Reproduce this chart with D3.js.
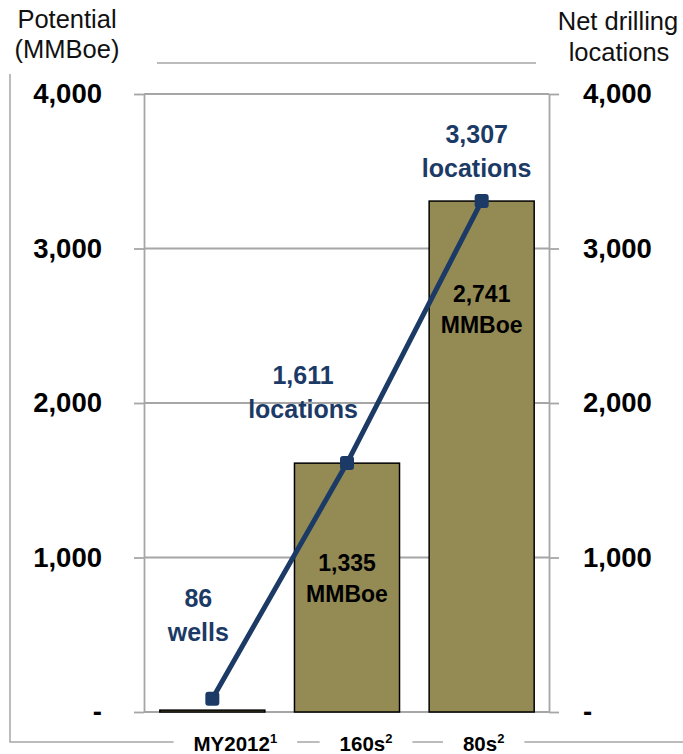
<!DOCTYPE html>
<html><head><meta charset="utf-8">
<script src="https://cdn.jsdelivr.net/npm/d3@7"></script>
<style>
html,body{margin:0;padding:0;background:#fff;}
svg{display:block;font-family:"Liberation Sans",Arial,Helvetica,sans-serif;}
</style></head><body>
<svg id="chart" width="683" height="754"></svg>
<script>
// ---- data ----
const categories = ["MY2012", "160s", "80s"];
const footnotes = ["1", "2", "2"];
const potentialMMBoe = [10, 1335, 2741];
const netLocations = [86, 1611, 3307];
const locationUnits = ["wells", "locations", "locations"];
const axisTicks = [0, 1000, 2000, 3000, 4000];

// ---- layout ----
const plot = {left: 144, right: 549, top: 94, bottom: 712};
const gray = "#a6a6a6", navy = "#1c3a66", olive = "#948a54";
// label offsets from their anchor points
const locLabelOffset = [{dx: -14, dy: -92}, {dx: -44, dy: -79}, {dx: -5, dy: -58}];
const mmboeLabelDy = [null, 108, 101];
const catLabelDx = [23, 19, 2];

const svg = d3.select("#chart");

const x = d3.scaleBand().domain(categories)
  .range([plot.left + 1, plot.right]).paddingInner(0.22).paddingOuter(0.11);
const y = d3.scaleLinear().domain([0, 4000]).range([plot.bottom, plot.top]);
// bars share the vertical extent of the locations line
const yBar = d3.scaleLinear()
  .domain([0, 4000 * d3.max(potentialMMBoe) / d3.max(netLocations)])
  .range([plot.bottom, plot.top]);

const fmt = d => d === 0 ? "-" : d3.format(",")(d);

// ---- frame bracket and header rule ----
svg.append("path")
  .attr("d", "M10,74V742H683")
  .attr("fill", "none").attr("stroke", gray).attr("stroke-width", 1.5);
svg.append("line")
  .attr("x1", 157).attr("x2", 536).attr("y1", 63).attr("y2", 63)
  .attr("stroke", gray).attr("stroke-width", 1.5);

// ---- axis titles ----
const titleL = svg.append("text").attr("text-anchor", "middle")
  .attr("font-size", 25.5).attr("fill", "#111");
titleL.append("tspan").attr("x", 67).attr("y", 28).text("Potential");
titleL.append("tspan").attr("x", 67).attr("y", 58).text("(MMBoe)");
const titleR = svg.append("text").attr("text-anchor", "middle")
  .attr("font-size", 25.5).attr("fill", "#111");
titleR.append("tspan").attr("x", 618).attr("y", 30).text("Net drilling");
titleR.append("tspan").attr("x", 619).attr("y", 61).text("locations");

// ---- gridlines ----
svg.append("g").selectAll("line").data(axisTicks).join("line")
  .attr("x1", plot.left).attr("x2", plot.right)
  .attr("y1", d => y(d)).attr("y2", d => y(d))
  .attr("stroke", gray).attr("stroke-width", 1.8);

// ---- axes ----
function styleAxis(g) {
  g.select(".domain").attr("stroke", gray).attr("stroke-width", 1.8);
  g.selectAll(".tick line").attr("stroke", gray).attr("stroke-width", 1.8);
  g.selectAll(".tick text")
    .attr("font-family", "Liberation Sans, Arial, sans-serif")
    .attr("font-size", 27.5).attr("font-weight", "bold").attr("fill", "#000");
}
svg.append("g").attr("transform", `translate(${plot.left},0)`)
  .call(d3.axisLeft(y).tickValues(axisTicks).tickFormat(fmt)
    .tickSize(10).tickSizeOuter(0).tickPadding(32))
  .call(styleAxis);
svg.append("g").attr("transform", `translate(${plot.right},0)`)
  .call(d3.axisRight(y).tickValues(axisTicks).tickFormat(fmt)
    .tickSize(10).tickSizeOuter(0).tickPadding(24))
  .call(styleAxis);

// ---- bars (potential MMBoe) ----
svg.append("g").selectAll("rect").data(potentialMMBoe).join("rect")
  .attr("x", (d, i) => x(categories[i]))
  .attr("width", x.bandwidth())
  .attr("y", d => yBar(d))
  .attr("height", d => yBar(0) - yBar(d))
  .attr("fill", olive).attr("stroke", "#000").attr("stroke-width", 1.5);

// MMBoe labels inside the bars
potentialMMBoe.forEach((v, i) => {
  if (mmboeLabelDy[i] == null) return;
  const cx = x(categories[i]) + x.bandwidth() / 2;
  const top = yBar(v);
  const t = svg.append("text").attr("text-anchor", "middle")
    .attr("font-size", 23).attr("font-weight", "bold").attr("fill", "#000");
  t.append("tspan").attr("x", cx).attr("y", top + mmboeLabelDy[i]).text(d3.format(",")(v));
  t.append("tspan").attr("x", cx).attr("y", top + mmboeLabelDy[i] + 31).text("MMBoe");
});

// ---- locations line ----
const pts = netLocations.map((v, i) => [x(categories[i]) + x.bandwidth() / 2, y(v)]);
svg.append("path").attr("d", d3.line()(pts))
  .attr("fill", "none").attr("stroke", navy).attr("stroke-width", 5)
  .attr("stroke-linejoin", "round");
svg.append("g").selectAll("rect").data(pts).join("rect")
  .attr("x", d => d[0] - 7).attr("y", d => d[1] - 7)
  .attr("width", 14).attr("height", 14).attr("rx", 3)
  .attr("fill", navy);

// locations labels
netLocations.forEach((v, i) => {
  const [px, py] = pts[i];
  const o = locLabelOffset[i];
  const t = svg.append("text").attr("text-anchor", "middle")
    .attr("font-size", 25).attr("font-weight", "bold").attr("fill", navy);
  t.append("tspan").attr("x", px + o.dx).attr("y", py + o.dy).text(d3.format(",")(v));
  t.append("tspan").attr("x", px + o.dx).attr("y", py + o.dy + 34).text(locationUnits[i]);
});

// ---- category labels on the bottom rule ----
categories.forEach((c, i) => {
  const cx = x(c) + x.bandwidth() / 2 + catLabelDx[i];
  const g = svg.append("g");
  const t = g.append("text").attr("x", cx).attr("y", 751)
    .attr("text-anchor", "middle").attr("font-size", 20.5)
    .attr("font-weight", "bold").attr("fill", "#000");
  t.append("tspan").text(c);
  t.append("tspan").attr("font-size", 13).attr("dy", -8).text(footnotes[i]);
  const bb = t.node().getBBox();
  g.insert("rect", "text")
    .attr("x", bb.x - 20).attr("width", bb.width + 40)
    .attr("y", 734).attr("height", 20).attr("fill", "#fff");
});
</script>
</body></html>
